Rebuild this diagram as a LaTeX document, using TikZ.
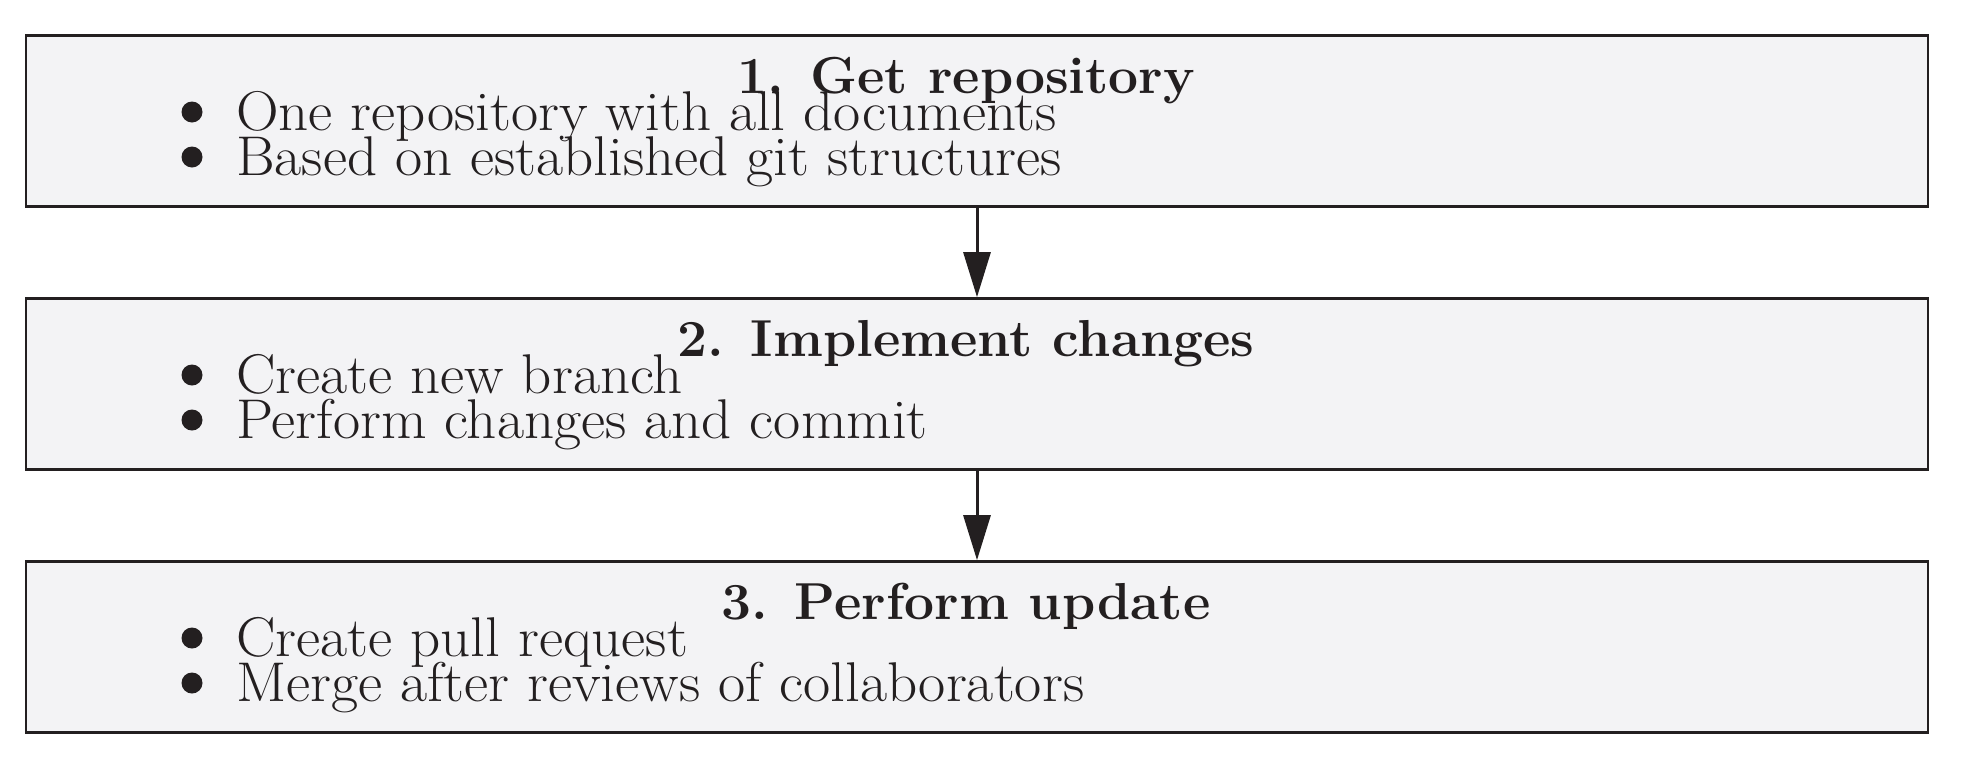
\documentclass[tikz,border=0pt]{standalone}
\usetikzlibrary{arrows.meta}
\usepackage{graphicx}
\definecolor{ink}{HTML}{231F20}
\definecolor{panel}{HTML}{F3F3F5}
% slightly widened lettering
\newcommand{\wideitem}[1]{\scalebox{1.055}[1]{#1}}
\newcommand{\widehead}[1]{\scalebox{1.025}[1]{#1}}
\begin{document}
\begin{tikzpicture}[x=1pt,y=-1pt,
  stage/.style={draw=ink, fill=panel, line width=2.7pt, rectangle,
    minimum width=1902pt, minimum height=171pt, inner sep=0pt},
  heading/.style={anchor=base, text=ink, inner sep=0pt,
    font=\fontsize{52}{52}\selectfont\bfseries},
  itemtext/.style={anchor=base west, text=ink, inner sep=0pt,
    font=\fontsize{56}{56}\selectfont},
  dot/.style={circle, fill=ink, inner sep=0pt, minimum size=21pt},
  flow/.style={draw=ink, line width=3pt,
    -{Triangle[length=45pt, width=27pt]}}]
\useasboundingbox[fill=white] (0,0) rectangle (1982,769);

% three stages, each a framed panel
\node[stage] (s1) at (977,121) {};
\node[stage] (s2) at (977,384) {};
\node[stage] (s3) at (977,647) {};

% headings
\node[heading] (h1) at (966,93) {\widehead{1. Get repository}};
\node[heading] (h2) at (966,356) {\widehead{2. Implement changes}};
\node[heading] (h3) at (966,619) {\widehead{3. Perform update}};

% bullet points
\node[dot] (d1a) at (192,112) {};
\node[itemtext] (t1a) at (236,130) {\wideitem{One repository with all documents}};
\node[dot] (d1b) at (192,157) {};
\node[itemtext] (t1b) at (236,175) {\wideitem{Based on established git structures}};

\node[dot] (d2a) at (192,375) {};
\node[itemtext] (t2a) at (236,393) {\wideitem{Create new branch}};
\node[dot] (d2b) at (192,420) {};
\node[itemtext] (t2b) at (236,438) {\wideitem{Perform changes and commit}};

\node[dot] (d3a) at (192,638) {};
\node[itemtext] (t3a) at (236,656) {\wideitem{Create pull request}};
\node[dot] (d3b) at (192,683) {};
\node[itemtext] (t3b) at (236,701) {\wideitem{Merge after reviews of collaborators}};

% connectors
\draw[flow] (s1.south) -- (s2.north);
\draw[flow] (s2.south) -- (s3.north);
\end{tikzpicture}
\end{document}
